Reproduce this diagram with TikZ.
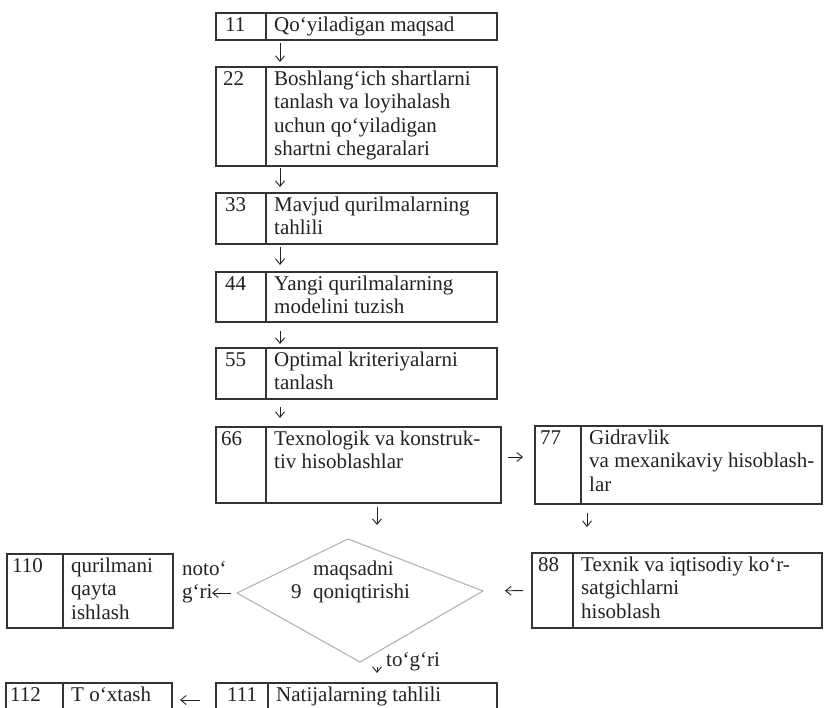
\documentclass[tikz,border=0pt]{standalone}
\usepackage{fontspec}
\setmainfont{Liberation Serif}
\usetikzlibrary{arrows.meta,calc}
\definecolor{ink}{HTML}{222222}
\definecolor{boxline}{HTML}{333333}
\definecolor{diamline}{HTML}{B4B4B4}
\newcommand\fsz{\fontsize{21pt}{23.5pt}\selectfont}
\newcommand\flowbox[9]{%
  \node[cellbox, minimum width={#6pt-#2pt}, minimum height={#5pt-#3pt}] (n#1) at (#2,#3) {};
  \node[cellbox, minimum width={#4pt-#6pt}, minimum height={#5pt-#3pt}] (t#1) at (#6,#3) {};
  \node[lbl] (ln#1) at (#2+#7,#3+3) {\rule{0pt}{15pt}#8};
  \node[lbl] (lt#1) at (#6+8,#3+3) {\rule{0pt}{15pt}#9};
}
% box cut by the lower edge of the picture: no bottom line
\newcommand\openbox[9]{%
  \node[cellbox, draw=none, minimum width={#6pt-#2pt}, minimum height={#5pt-#3pt}] (n#1) at (#2,#3) {};
  \node[cellbox, draw=none, minimum width={#4pt-#6pt}, minimum height={#5pt-#3pt}] (t#1) at (#6,#3) {};
  \draw[boxedge] (n#1.south west) -- (n#1.north west) -- (t#1.north east) -- (t#1.south east);
  \draw[boxedge] (t#1.north west) -- (t#1.south west);
  \node[lbl] (ln#1) at (#2+#7,#3+3) {\rule{0pt}{15pt}#8};
  \node[lbl] (lt#1) at (#6+8,#3+3) {\rule{0pt}{15pt}#9};
}
\tikzset{
  cellbox/.style={draw=boxline, line width=1.3pt, rectangle, anchor=north west, inner sep=0pt, outer sep=0pt},
  boxedge/.style={draw=boxline, line width=1.3pt},
  lbl/.style={anchor=north west, inner sep=0pt, align=left, font=\fsz, text=ink},
  arr/.style={draw=ink, line width=0.9pt, -{Straight Barb[length=5.5pt,width=9pt]}},
  diam/.style={draw=diamline, line width=1.1pt}
}
\begin{document}
\begin{tikzpicture}[x=1pt,y=-1pt]
\useasboundingbox (0,0) rectangle (825,708);
\clip (0,0) rectangle (825,708);
\fill[white] (0,0) rectangle (825,708);
% boxes: name, left, top, right, bottom, divider, num dx, number, text
\flowbox{11}{216}{13}{497}{40}{266}{9}{11}{Qo‘yiladigan maqsad}
\flowbox{22}{216}{67}{497}{166}{266}{7}{22}{Boshlang‘ich shartlarni\\tanlash va loyihalash\\uchun qo‘yiladigan\\shartni chegaralari}
\flowbox{33}{216}{193}{497}{244}{266}{9}{33}{Mavjud qurilmalarning\\tahlili}
\flowbox{44}{216}{272}{497}{322}{266}{9}{44}{Yangi qurilmalarning\\modelini tuzish}
\flowbox{55}{216}{348}{497}{399}{266}{9}{55}{Optimal kriteriyalarni\\tanlash}
\flowbox{66}{216}{427}{501}{503}{266}{5}{66}{Texnologik va konstruk-\\tiv hisoblashlar}
\flowbox{77}{535}{426}{822}{504}{581}{5}{77}{Gidravlik\\va mexanikaviy hisoblash-\\lar}
\flowbox{88}{532}{553}{822}{628}{573}{6}{88}{Texnik va iqtisodiy ko‘r-\\satgichlarni\\hisoblash}
\flowbox{110}{7}{554}{173}{628}{63}{5}{110}{qurilmani\\qayta\\ishlash}
\openbox{112}{6}{683}{172}{740}{63}{4}{112}{T o‘xtash}
\openbox{111}{216}{683}{497}{740}{268}{11}{111}{Natijalarning tahlili}
% decision diamond
\coordinate (dW) at (237,593);
\coordinate (dN) at (348,539);
\coordinate (dE) at (483,591);
\coordinate (dS) at (360,662);
\draw[diam] (dW) -- (dN) -- (dE) -- (dS) -- cycle;
\node[lbl] (dtxt) at (313,560) {\rule{0pt}{15pt}maqsadni\\qoniqtirishi};
\node[lbl] (dnum) at (291,583.5) {\rule{0pt}{15pt}9};
\node[lbl] (lno) at (182,560) {\rule{0pt}{15pt}noto‘\\g‘ri};
\node[lbl] (lyes) at (386,651) {\rule{0pt}{15pt}to‘g‘ri};
% connectors
\draw[arr, shorten <=3pt, shorten >=5pt] ([xshift=14pt]t11.south west) -- ([xshift=14pt]t22.north west);
\draw[arr, shorten <=2pt, shorten >=6pt] ([xshift=14pt]t22.south west) -- ([xshift=14pt]t33.north west);
\draw[arr, shorten <=3pt, shorten >=7pt] ([xshift=14pt]t33.south west) -- ([xshift=14pt]t44.north west);
\draw[arr, shorten <=9pt, shorten >=4pt] ([xshift=14pt]t44.south west) -- ([xshift=14pt]t55.north west);
\draw[arr, shorten <=8pt, shorten >=9pt] ([xshift=14pt]t55.south west) -- ([xshift=14pt]t66.north west);
\draw[arr, shorten <=7pt, shorten >=12pt] ([yshift=8pt]t66.east) -- ([yshift=8pt]n77.west);
\draw[arr, shorten <=4pt, shorten >=14pt] ([xshift=111pt]t66.south west) -- ([xshift=111pt]t66.south west |- dN);
\draw[arr, shorten <=9pt, shorten >=26pt] ([xshift=6pt]t77.south west) -- ([xshift=6pt]t77.south west |- t88.north);
\draw[arr, shorten <=9pt, shorten >=22pt] (n88.west) -- (dE);
\draw[arr, shorten <=6pt, shorten >=39pt] (dW) -- (t110.east |- dW);
\draw[arr, shorten <=5pt, shorten >=10pt] ([xshift=109pt]t111.north west |- dS) -- ([xshift=109pt]t111.north west);
\draw[arr, shorten <=16pt, shorten >=8pt] ([yshift=-17pt]n111.north west) -- ([yshift=-17pt]t112.north east);
\end{tikzpicture}
\end{document}
